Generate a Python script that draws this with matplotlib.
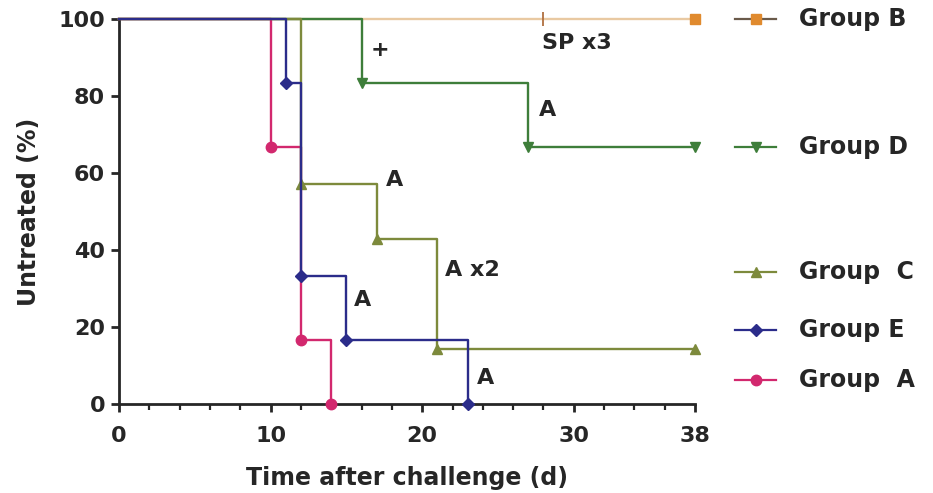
import matplotlib
matplotlib.use("Agg")
import matplotlib.pyplot as plt
from matplotlib.lines import Line2D
from matplotlib.ticker import MultipleLocator

plt.rcParams['font.family'] = ['DejaVu Sans']
plt.rcParams['font.weight'] = 'bold'

# ---- data (Kaplan-Meier steps) ----
groupB_t = [0, 38]
groupB_v = [100, 100]
groupB_censor_t = [28]
groupB_censor_v = [100]

groupD_t = [0, 16, 27, 38]
groupD_v = [100, 83.3, 66.7, 66.7]

groupC_t = [0, 12, 17, 21, 38]
groupC_v = [100, 57.1, 42.9, 14.3, 14.3]

groupE_t = [0, 11, 12, 15, 23]
groupE_v = [100, 83.3, 33.3, 16.7, 0]

groupA_t = [0, 10, 12, 14]
groupA_v = [100, 66.7, 16.7, 0]

x_ticks = [0, 10, 20, 30, 38]
y_ticks = [0, 20, 40, 60, 80, 100]

# annotations: (text, x, y, ha)
annotations = [
    ("+", 17.2, 92.0, 'center'),
    ("SP x3", 27.9, 93.8, 'left'),
    ("A", 27.7, 76.4, 'left'),
    ("A", 17.6, 58.2, 'left'),
    ("A x2", 21.5, 34.8, 'left'),
    ("A", 15.5, 27.0, 'left'),
    ("A", 23.6, 6.8, 'left'),
]

colors = {
    'B': '#E08A2E',
    'D': '#3E7E3A',
    'C': '#7D8A3C',
    'E': '#2B2C8A',
    'A': '#D2286E',
}
lineB = '#E9C9A2'
txtc = '#262626'

fig = plt.figure(figsize=(9.33, 4.93), dpi=100)
ax = fig.add_axes([0.1275, 0.1805, 0.6175, 0.781])

lw = 1.7
ms = 7.5

def km(t, v, color, marker, z, linecolor=None, ms_=ms):
    ax.step(t, v, where='post', color=linecolor or color, lw=lw, zorder=z,
            clip_on=False)
    ax.plot(t[1:], v[1:], ls='none', marker=marker, color=color,
            markersize=ms_, zorder=z + 0.5, clip_on=False)

km(groupB_t, groupB_v, colors['B'], 's', 2, linecolor=lineB)
ax.plot(groupB_censor_t, groupB_censor_v, ls='none', marker='|', color='#B07040',
        markersize=10, mew=1.3, zorder=2.6, clip_on=False)
km(groupD_t, groupD_v, colors['D'], 'v', 3)
km(groupA_t, groupA_v, colors['A'], 'o', 4)
km(groupC_t, groupC_v, colors['C'], '^', 5)
km(groupE_t, groupE_v, colors['E'], 'D', 6, ms_=6.5)

for txt, x, y, ha in annotations:
    ax.text(x, y, txt, ha=ha, va='center', fontsize=16, fontweight='bold',
            color=txtc)

ax.set_xlim(0, 38)
ax.set_ylim(0, 100)
ax.set_xticks(x_ticks)
ax.set_yticks(y_ticks)
ax.xaxis.set_minor_locator(MultipleLocator(2))
for s in ['top', 'right']:
    ax.spines[s].set_visible(False)
for s in ['left', 'bottom']:
    ax.spines[s].set_linewidth(2)
    ax.spines[s].set_color(txtc)
ax.tick_params(axis='both', which='major', length=6, width=2, labelsize=16,
               colors=txtc, direction='out', pad=4)
ax.tick_params(axis='x', which='major', pad=10)
ax.tick_params(axis='x', which='minor', length=4, width=1.6, direction='out',
               colors=txtc)
for lab in ax.get_xticklabels() + ax.get_yticklabels():
    lab.set_fontweight('bold')
ax.set_xlabel('Time after challenge (d)', fontsize=17, fontweight='bold',
              color=txtc)
ax.set_ylabel('Untreated (%)', fontsize=17, fontweight='bold', color=txtc)
ax.xaxis.set_label_coords(0.5, -0.16)
ax.yaxis.set_label_coords(-0.136, 0.5)

# ---- legend (manual, entries beside curve ends) ----
legend_entries = [
    ('Group B', 'B', 's', 1 - 19 / 493),
    ('Group D', 'D', 'v', 1 - 147 / 493),
    ('Group  C', 'C', '^', 1 - 272 / 493),
    ('Group E', 'E', 'D', 1 - 330 / 493),
    ('Group  A', 'A', 'o', 1 - 380 / 493),
]
x0, x1, xt = 735 / 933, 776 / 933, 799 / 933
for label, key, mk, yf in legend_entries:
    lc = '#6a5a4a' if key == 'B' else colors[key]
    fig.add_artist(Line2D([x0, x1], [yf, yf], transform=fig.transFigure,
                          color=lc, lw=1.6))
    fig.add_artist(Line2D([(x0 + x1) / 2], [yf], transform=fig.transFigure,
                          color=colors[key], marker=mk,
                          markersize=ms if mk != 'D' else 6.5, ls='none'))
    fig.text(xt, yf, label, fontsize=17, fontweight='bold', color=txtc,
             va='center', ha='left')

fig.savefig('out.png', dpi=100)
